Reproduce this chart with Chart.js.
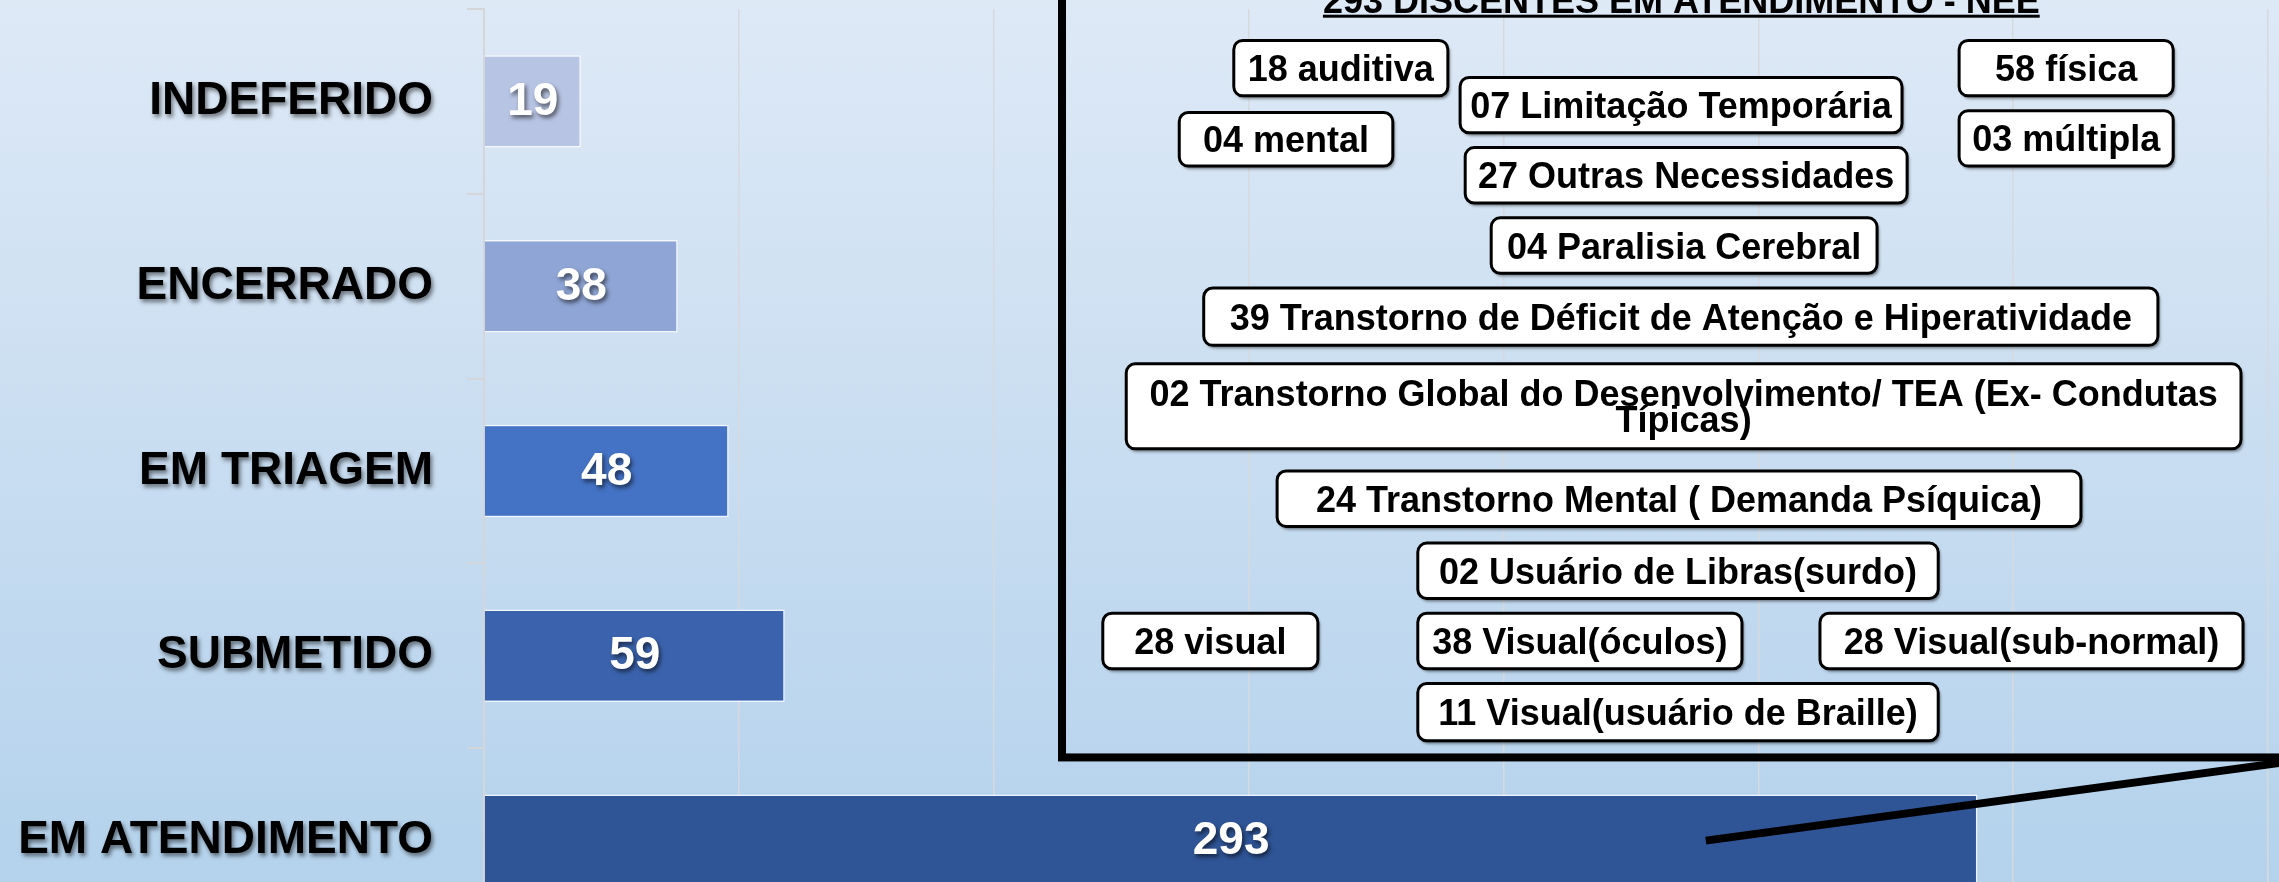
<!DOCTYPE html>
<html lang="pt-BR">
<head>
<meta charset="utf-8">
<title>Discentes - situação</title>
<script src="https://cdn.jsdelivr.net/npm/chart.js@4/dist/chart.umd.min.js"></script>
<style>
  html, body { margin: 0; padding: 0; overflow: hidden; }
  body { width: 2279px; height: 882px; background: linear-gradient(180deg, #dee9f6 0%, #b4d2ec 100%); }
  #wrap { position: absolute; left: 0; top: 0; width: 2279px; height: 940px; }
</style>
</head>
<body>
<div id="wrap"><canvas id="chart" width="2279" height="940"></canvas></div>
<script>
const FONT = '"Liberation Sans", Arial, sans-serif';

const categories = ['INDEFERIDO', 'ENCERRADO', 'EM TRIAGEM', 'SUBMETIDO', 'EM ATENDIMENTO'];
const values = [19, 38, 48, 59, 293];
const barColors = ['#b8c4e4', '#8fa5d5', '#4472c4', '#3b63ad', '#2f5597'];

const neeTitle = '293 DISCENTES EM ATENDIMENTO - NEE';
const neeCounts = [18, 7, 58, 4, 3, 27, 4, 39, 2, 24, 2, 28, 38, 28, 11];
const neeNames = [
  'auditiva', 'Limitação Temporária', 'física', 'mental', 'múltipla',
  'Outras Necessidades', 'Paralisia Cerebral',
  'Transtorno de Déficit de Atenção e Hiperatividade',
  'Transtorno Global do Desenvolvimento/ TEA (Ex- Condutas Típicas)',
  'Transtorno Mental ( Demanda Psíquica)', 'Usuário de Libras(surdo)',
  'visual', 'Visual(óculos)', 'Visual(sub-normal)', 'Visual(usuário de Braille)'
];

// callout layout in axis units: [xFrom, xTo] as values, [yFrom, yTo] as category positions
const neeBoxes = [
  [147.1, 189.1, -0.33, -0.03],
  [191.5, 278.2, -0.13, 0.17],
  [289.4, 331.4, -0.33, -0.03],
  [136.4, 178.3, 0.06, 0.35],
  [289.4, 331.4, 0.05, 0.35],
  [192.5, 279.2, 0.25, 0.55],
  [197.6, 273.3, 0.63, 0.93],
  [141.2, 328.4, 1.01, 1.32],
  [126.0, 344.7, 1.42, 1.88],
  [155.6, 313.3, 2.00, 2.30],
  [183.2, 285.3, 2.39, 2.69],
  [121.4, 163.6, 2.77, 3.07],
  [183.2, 246.8, 2.77, 3.07],
  [262.1, 345.1, 2.77, 3.07],
  [183.2, 285.3, 3.15, 3.46]
];
const frameBox = [113.4, 360.2, -1.1, 3.55];
const pointerEnd = [239.7, 4.0];
const titleAt = [234.9, -0.48];

function setShadow(ctx, color, dx, dy, blur) {
  ctx.shadowColor = color; ctx.shadowOffsetX = dx; ctx.shadowOffsetY = dy; ctx.shadowBlur = blur;
}

function wrapText(ctx, text, maxWidth) {
  const words = text.split(' ');
  const lines = [];
  let line = '';
  words.forEach((w) => {
    const test = line ? line + ' ' + w : w;
    if (line && ctx.measureText(test).width > maxWidth) { lines.push(line); line = w; } else { line = test; }
  });
  if (line) lines.push(line);
  return lines;
}

const overlay = {
  id: 'overlay',
  afterDatasetsDraw(chart) {
    const { ctx } = chart;
    const meta = chart.getDatasetMeta(0);
    ctx.save();
    ctx.font = 'bold 46px ' + FONT;
    ctx.fillStyle = '#ffffff';
    ctx.textAlign = 'center';
    ctx.textBaseline = 'middle';
    setShadow(ctx, 'rgba(0,0,0,0.55)', 2, 3, 4);
    meta.data.forEach((bar, i) => {
      const { x, y, base } = bar.getProps(['x', 'y', 'base'], true);
      ctx.fillText(String(values[i]), (x + base) / 2, y + 1);
    });
    ctx.restore();
    // category labels (y ticks, z = 1) are drawn right after this hook
    setShadow(ctx, 'rgba(0,0,0,0.5)', 2, 3, 4);
  },
  afterDraw(chart) {
    const { ctx } = chart;
    const xs = chart.scales.x, ys = chart.scales.y;
    const px = (v) => xs.getPixelForValue(v);
    const py = (v) => ys.getPixelForValue(v);
    setShadow(ctx, 'rgba(0,0,0,0)', 0, 0, 0);
    ctx.save();

    // frame + pointer
    ctx.strokeStyle = '#000';
    ctx.lineWidth = 8;
    ctx.strokeRect(px(frameBox[0]), py(frameBox[2]), px(frameBox[1]) - px(frameBox[0]), py(frameBox[3]) - py(frameBox[2]));
    ctx.beginPath();
    ctx.moveTo(px(frameBox[1]), py(frameBox[3]));
    ctx.lineTo(px(pointerEnd[0]), py(pointerEnd[1]));
    ctx.stroke();

    // title, underlined
    ctx.font = 'bold 36px ' + FONT;
    ctx.fillStyle = '#000';
    ctx.textAlign = 'center';
    ctx.textBaseline = 'alphabetic';
    const tx = px(titleAt[0]), ty = py(titleAt[1]);
    ctx.fillText(neeTitle, tx, ty);
    const tw = ctx.measureText(neeTitle).width;
    ctx.fillRect(tx - tw / 2, ty + 2, tw, 3);

    // NEE boxes
    neeBoxes.forEach((b, i) => {
      const x0 = px(b[0]), x1 = px(b[1]), y0 = py(b[2]), y1 = py(b[3]);
      ctx.save();
      setShadow(ctx, 'rgba(0,0,0,0.45)', 2, 3, 3);
      ctx.beginPath();
      ctx.roundRect(x0, y0, x1 - x0, y1 - y0, 9);
      ctx.fillStyle = '#ffffff';
      ctx.fill();
      setShadow(ctx, 'rgba(0,0,0,0)', 0, 0, 0);
      ctx.lineWidth = 3;
      ctx.strokeStyle = '#000';
      ctx.stroke();
      ctx.restore();

      const text = String(neeCounts[i]).padStart(2, '0') + ' ' + neeNames[i];
      ctx.font = 'bold 36px ' + FONT;
      ctx.fillStyle = '#000';
      ctx.textAlign = 'center';
      ctx.textBaseline = 'alphabetic';
      const lines = wrapText(ctx, text, x1 - x0 - 16);
      const lh = 26;
      const cy = (y0 + y1) / 2 - (lines.length - 1) * lh / 2;
      lines.forEach((ln, k) => ctx.fillText(ln, (x0 + x1) / 2, cy + k * lh + 13));
    });
    ctx.restore();
  }
};

new Chart(document.getElementById('chart'), {
  type: 'bar',
  data: {
    labels: categories,
    datasets: [{
      data: values,
      backgroundColor: barColors,
      borderColor: 'rgba(255,255,255,0.75)',
      borderWidth: 1.5,
      categoryPercentage: 1,
      barPercentage: 0.5,
    }],
  },
  options: {
    indexAxis: 'y',
    responsive: false,
    animation: false,
    devicePixelRatio: 1,
    layout: { padding: { top: 9, bottom: 7, left: 0, right: 11 } },
    plugins: { legend: { display: false }, tooltip: { enabled: false } },
    scales: {
      x: {
        min: 0, max: 350,
        ticks: { stepSize: 50, display: false },
        grid: { color: '#d6d9de', lineWidth: 1.5, drawTicks: false },
        border: { display: false },
        afterFit: (s) => { s.height = 0; s.paddingLeft = 0; s.paddingRight = 0; },
      },
      y: {
        ticks: { z: 1, color: '#000', padding: 34, font: { family: FONT, size: 46, weight: 'bold' } },
        grid: { drawOnChartArea: false, drawTicks: true, tickLength: 17, color: '#d4d6da', lineWidth: 2 },
        border: { display: true, color: '#d4d6da', width: 2 },
        afterFit: (s) => { s.width = 484; s.paddingTop = 0; s.paddingBottom = 0; },
      },
    },
  },
  plugins: [overlay],
});
</script>
</body>
</html>
